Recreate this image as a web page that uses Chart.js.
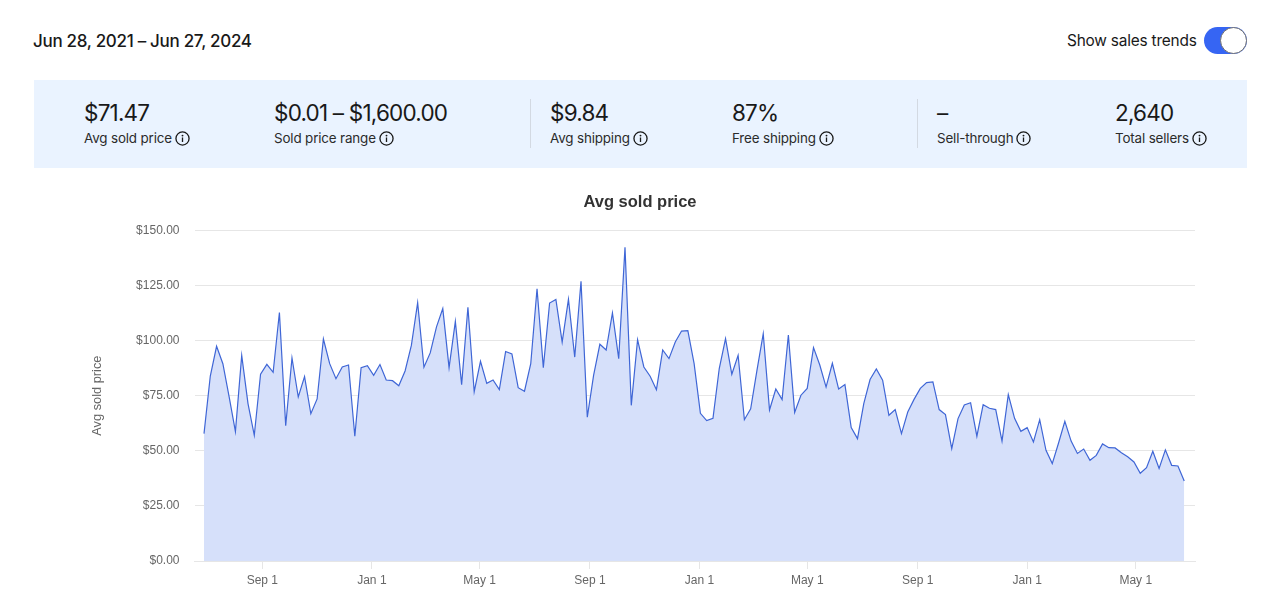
<!DOCTYPE html>
<html>
<head>
<meta charset="utf-8">
<title>Avg sold price</title>
<script src="https://cdn.jsdelivr.net/npm/chart.js@4"></script>
<style>
  html, body { margin: 0; padding: 0; background: #fff; overflow: hidden; }
  body { width: 1280px; height: 611px; position: relative; font-family: "Inter", sans-serif; color: #191919; }
  .range { position: absolute; left: 33px; top: 29px; font-size: 17px; line-height: 24px; letter-spacing: -0.3px; font-weight: 500; }
  .trend { position: absolute; left: 1067px; top: 31px; font-size: 15.4px; line-height: 20px; letter-spacing: -0.2px; }
  .toggle { position: absolute; left: 1204px; top: 27px; width: 43px; height: 27px; border-radius: 14px; background: #3665f3; }
  .toggle i { position: absolute; right: 0; top: 0; width: 25px; height: 25px; border-radius: 50%; background: #fff; border: 1px solid #707070; }
  .panel { position: absolute; left: 34px; top: 80px; width: 1213px; height: 88px; background: #eaf3ff; }
  .stat { position: absolute; top: 99px; white-space: nowrap; }
  .stat b { display: block; font-weight: 400; font-size: 22.5px; line-height: 28px; letter-spacing: -0.8px; }
  .stat span { display: flex; align-items: center; gap: 3px; font-size: 13.4px; line-height: 20px; margin-top: 1px; letter-spacing: -0.15px; color: #2b2b2b; }
  .stat svg { flex: none; width: 15px; height: 15px; margin-top: 1px; }
  .rule { position: absolute; top: 99px; width: 1px; height: 49px; background: #d3d9e2; }
  #wrap { position: absolute; left: 0; top: 180px; width: 1280px; height: 431px; }
</style>
</head>
<body>
<div class="range">Jun 28, 2021 – Jun 27, 2024</div>
<div class="trend">Show sales trends</div>
<div class="toggle"><i></i></div>
<div class="panel"></div>
<div class="rule" style="left:530px"></div>
<div class="rule" style="left:917px"></div>
<div id="stats"></div>
<div id="wrap"><canvas id="chart"></canvas></div>

<script>
// header figures
const statValues = ['$71.47', '$0.01 – $1,600.00', '$9.84', '87%', '–', '2,640']
const statLabels = ['Avg sold price', 'Sold price range', 'Avg shipping', 'Free shipping', 'Sell-through', 'Total sellers']
const statLefts = [84, 274, 550, 732, 937, 1115]

// weekly avg sold price
const prices = [
  57.8, 83.9, 97.4, 89.5, 74.4, 58.7, 93.2, 71.4, 57.0, 84.7, 89.2, 85.6, 112.7,
  61.4, 92.1, 74.4, 83.6, 66.8, 73.5, 100.7, 89.5, 82.7, 88.0, 88.9, 56.6, 87.7,
  88.6, 84.2, 89.1, 82.1, 81.8, 79.5, 86.2, 97.8, 117.2, 87.9, 94.4, 106.2, 114.5,
  87.7, 108.7, 80.0, 115.1, 76.8, 90.6, 80.6, 82.1, 77.7, 95.0, 93.9, 78.6, 77.0,
  89.5, 123.5, 87.7, 117.0, 118.6, 99.3, 118.7, 92.5, 126.9, 65.2, 84.2, 98.3, 95.7,
  112.5, 91.8, 142.3, 70.6, 100.4, 88.0, 83.8, 77.7, 95.7, 91.8, 99.3, 104.3, 104.5,
  89.5, 67.0, 63.7, 64.7, 87.3, 100.9, 84.7, 93.3, 64.1, 69.0, 86.5, 103.1, 68.5,
  78.0, 73.2, 102.5, 67.4, 75.2, 78.3, 96.8, 88.9, 78.9, 89.7, 78.0, 80.0, 60.5,
  55.5, 71.4, 82.3, 87.1, 82.0, 66.1, 68.7, 57.8, 67.6, 73.3, 78.3, 80.9, 81.2,
  68.7, 66.4, 51.0, 64.6, 70.8, 71.8, 56.6, 70.9, 69.3, 68.7, 54.4, 75.5, 64.7,
  58.8, 60.5, 54.0, 64.1, 50.2, 44.2, 53.5, 63.4, 54.4, 48.8, 50.8, 45.7, 47.9,
  53.1, 51.4, 51.3, 49.1, 47.3, 44.9, 39.8, 42.3, 49.8, 42.0, 50.4, 43.4, 43.1, 36.3
]

// x axis is in days since Jun 28, 2021
const xTickDays = [65, 187, 307, 430, 552, 672, 795, 917, 1038]
const xTickLabels = ['Sep 1', 'Jan 1', 'May 1', 'Sep 1', 'Jan 1', 'May 1', 'Sep 1', 'Jan 1', 'May 1']
const yTicks = [0, 25, 50, 75, 100, 125, 150]

const infoIcon = '<svg viewBox="0 0 16 16"><circle cx="8" cy="8" r="7" fill="none" stroke="#191919" stroke-width="1.4"/><circle cx="8" cy="4.9" r="1" fill="#191919"/><rect x="7.3" y="6.9" width="1.4" height="4.8" fill="#191919"/></svg>'

const stats = document.querySelector('#stats')
statValues.forEach(function (v, i) {
  stats.insertAdjacentHTML('beforeend',
    `<div class="stat" style="left:${statLefts[i]}px"><b>${v}</b><span>${statLabels[i]}${infoIcon}</span></div>`)
})

const axisFont = { family: '"Liberation Sans", Arial, sans-serif', size: 12 }

new Chart(document.querySelector('#chart'), {
  type: 'line',
  data: {
    datasets: [{
      data: prices.map((p, i) => ({ x: i * 7, y: p })),
      borderColor: '#3f66d6',
      borderWidth: 1.2,
      backgroundColor: '#d6e0fa',
      fill: 'origin',
      pointRadius: 0,
      tension: 0
    }]
  },
  options: {
    responsive: true,
    maintainAspectRatio: false,
    animation: false,
    layout: { padding: { left: 85, right: 85, top: 0, bottom: 0 } },
    plugins: {
      legend: { display: false },
      tooltip: { enabled: false },
      title: {
        display: true,
        text: 'Avg sold price',
        color: '#333333',
        font: { family: '"Liberation Sans", Arial, sans-serif', size: 16.5, weight: 'bold' },
        padding: { top: 13, bottom: 17.5 }
      }
    },
    scales: {
      x: {
        type: 'linear',
        min: -10.6,
        max: 1104,
        afterBuildTicks: function (axis) {
          axis.ticks = xTickDays.map(d => ({ value: d }))
        },
        afterFit: function (axis) { axis.height = 50 },
        ticks: {
          autoSkip: false,
          maxRotation: 0,
          color: '#666666',
          font: axisFont,
          padding: 4,
          callback: function (value) { return xTickLabels[xTickDays.indexOf(value)] }
        },
        grid: { drawOnChartArea: false, drawTicks: true, tickLength: 8, tickColor: '#e6e6e6' },
        border: { color: '#e6e6e6' }
      },
      y: {
        min: 0,
        max: 150,
        afterBuildTicks: function (axis) {
          axis.ticks = yTicks.map(v => ({ value: v }))
        },
        afterFit: function (axis) { axis.width = 109.5 },
        title: {
          display: true,
          text: 'Avg sold price',
          color: '#666666',
          font: { family: '"Liberation Sans", Arial, sans-serif', size: 12.8 },
          padding: { top: 5, bottom: 0 }
        },
        ticks: {
          color: '#666666',
          font: axisFont,
          padding: 15,
          callback: function (value) { return '$' + value.toFixed(2) }
        },
        grid: { color: '#e6e6e6', drawTicks: false },
        border: { display: false }
      }
    }
  }
})
</script>
</body>
</html>
